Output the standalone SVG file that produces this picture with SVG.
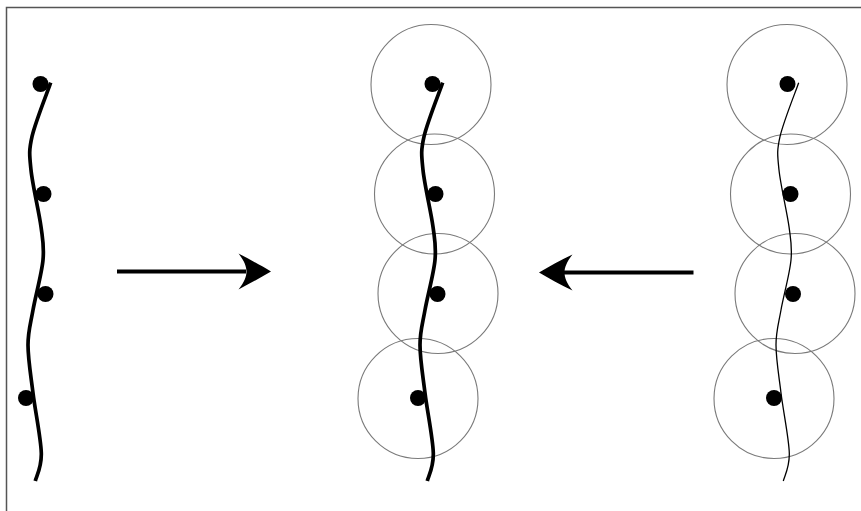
<svg xmlns="http://www.w3.org/2000/svg" xmlns:xlink="http://www.w3.org/1999/xlink" width="861" height="511" viewBox="0 0 861 511">
  <style>
    .frame { fill: none; stroke: #555555; stroke-width: 1.5; }
    .ring { fill: none; stroke: #7a7a7a; stroke-width: 1.1; }
    .dot { fill: #000000; }
    .thick { fill: none; stroke: #000000; stroke-width: 3.7; stroke-linecap: butt; }
    .thin { fill: none; stroke: #000000; stroke-width: 1.3; }
    .shaft { stroke: #000000; stroke-width: 4; fill: none; }
    .head { fill: #000000; stroke: none; }
  </style>
  <defs>
    <path id="strand" d="M442.7,82.7 C439.6,91.7 427.3,122.1 424,136.7 C420.7,151.3 421.5,155 423,170 C424.5,185 431,211.7 433,226.7 C435,241.7 436.3,246.1 435,260 C433.7,273.9 427.5,295.8 425,310 C422.5,324.2 420,331.2 420,345 C420,358.8 422.8,375 425,393 C427.2,411 432.9,438.3 433.3,453 C433.7,467.7 428.3,476.3 427.3,481"/>
  </defs>
  <path class="frame" d="M6.5,511 L6.5,7.5 L861,7.5"/>

  <g id="left-chain">
    <use xlink:href="#strand" class="thick" transform="translate(-392,0)"/>
    <circle class="dot" cx="40.5" cy="84" r="8"/>
    <circle class="dot" cx="43.5" cy="194" r="8"/>
    <circle class="dot" cx="45.5" cy="294" r="8"/>
    <circle class="dot" cx="26" cy="398" r="8"/>
  </g>

  <g id="middle-chain">
    <circle class="ring" cx="431" cy="84.5" r="60"/>
    <circle class="ring" cx="434.5" cy="194" r="60"/>
    <circle class="ring" cx="438" cy="293.5" r="60"/>
    <circle class="ring" cx="418" cy="398.5" r="60"/>
    <use xlink:href="#strand" class="thick"/>
    <circle class="dot" cx="432.5" cy="84" r="8"/>
    <circle class="dot" cx="435.5" cy="194" r="8"/>
    <circle class="dot" cx="437.5" cy="294" r="8"/>
    <circle class="dot" cx="418" cy="398" r="8"/>
  </g>

  <g id="right-chain">
    <circle class="ring" cx="787" cy="84.5" r="60"/>
    <circle class="ring" cx="790.5" cy="194" r="60"/>
    <circle class="ring" cx="795" cy="293.5" r="60"/>
    <circle class="ring" cx="774" cy="398.5" r="60"/>
    <use xlink:href="#strand" class="thin" transform="translate(356,0)"/>
    <circle class="dot" cx="787.5" cy="84" r="8"/>
    <circle class="dot" cx="790.5" cy="194" r="8"/>
    <circle class="dot" cx="793" cy="294" r="8"/>
    <circle class="dot" cx="774" cy="398" r="8"/>
  </g>

  <g id="connectors">
    <line class="shaft" x1="117" y1="271.5" x2="246" y2="271.5"/>
    <path class="head" d="M271,271.5 C261,265.5 249,259 238.5,253.5 C244.5,261 246.5,267 246.5,271.5 C246.5,276 244.5,282 238.5,289.5 C249,284 261,277.5 271,271.5 Z"/>
    <line class="shaft" x1="693.5" y1="272.5" x2="564" y2="272.5"/>
    <path class="head" d="M539,272.5 C549,266.5 561,260 572.5,254.5 C566.5,262 564.5,268 564.5,272.5 C564.5,277 566.5,283 572.5,290.5 C561,285 549,278.5 539,272.5 Z"/>
  </g>
</svg>
